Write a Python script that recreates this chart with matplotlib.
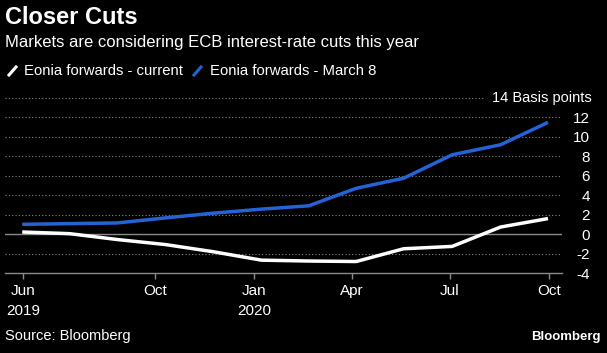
import matplotlib.pyplot as plt
import pandas as pd
from matplotlib.lines import Line2D

# Eonia forwards, basis points
dates = pd.to_datetime([
    "2019-05-31", "2019-07-14", "2019-08-27", "2019-10-11", "2019-11-24",
    "2020-01-08", "2020-02-21", "2020-04-05", "2020-05-19", "2020-07-03",
    "2020-08-17", "2020-09-30",
])
current = [0.24, 0.07, -0.53, -1.05, -1.78, -2.65, -2.74, -2.79, -1.48, -1.24, 0.75, 1.62]
march8 = [1.03, 1.10, 1.17, 1.69, 2.17, 2.59, 2.93, 4.73, 5.76, 8.17, 9.20, 11.50]

tick_dates = pd.to_datetime(["2019-06-01", "2019-10-01", "2020-01-01",
                             "2020-04-01", "2020-07-01", "2020-10-01"])
tick_labels = ["Jun\n2019", "Oct", "Jan\n2020", "Apr", "Jul", "Oct"]
y_ticks = [-4, -2, 0, 2, 4, 6, 8, 10, 12]

W, H = 607, 353
BG = "black"
BLUE = "#2463d6"
GRID = "#8a8a8a"
plt.rcParams["font.family"] = ["Liberation Sans", "DejaVu Sans"]

fig = plt.figure(figsize=(W / 100, H / 100), dpi=100, facecolor=BG)
ax = fig.add_axes([5 / W, 1 - 273.3 / H, (562 - 5) / W, (273.3 - 98) / H])
ax.set_facecolor(BG)

ax.plot(dates, current, color="white", lw=2.5, solid_capstyle="butt", zorder=3)
ax.plot(dates, march8, color=BLUE, lw=2.5, solid_capstyle="butt", zorder=3)

ax.set_ylim(-4, 14)
ax.set_xlim(pd.Timestamp("2019-05-15"), pd.Timestamp("2020-10-13"))

# dotted grid lines, solid zero line
for v in range(-2, 13, 2):
    if v == 0:
        ax.axhline(0, color=GRID, lw=1.0, zorder=1)
    else:
        ax.axhline(v, color=GRID, lw=0.8, ls=(0, (1, 2)), zorder=1)
ax.plot([0, 0.86], [1, 1], transform=ax.transAxes, color=GRID, lw=0.8,
        ls=(0, (1, 2)), clip_on=False)

for s in ["top", "left", "right"]:
    ax.spines[s].set_visible(False)
ax.spines["bottom"].set_color(GRID)
ax.spines["bottom"].set_linewidth(1.0)

ax.yaxis.tick_right()
ax.set_yticks(y_ticks)
ax.set_yticklabels([str(v) for v in y_ticks])
ax.tick_params(axis="y", length=0, pad=0, colors="white", labelsize=11)
for lab in ax.get_yticklabels():
    lab.set_horizontalalignment("right")
    lab.set_position((1 + 28 / 557, lab.get_position()[1]))

ax.set_xticks(tick_dates)
ax.set_xticklabels(tick_labels, ha="center", linespacing=1.5)
ax.tick_params(axis="x", length=4, width=1, color=GRID, colors="white",
               labelsize=11, pad=4)
ax.tick_params(axis="x", color=GRID)

fig.text(592 / W, 1 - 98 / H, "14 Basis points", color="white", fontsize=10.5,
         ha="right", va="center")

fig.text(5 / W, 1 - 17 / H, "Closer Cuts", color="white", fontsize=17,
         fontweight="bold", ha="left", va="center")
fig.text(5 / W, 1 - 43 / H, "Markets are considering ECB interest-rate cuts this year",
         color="white", fontsize=12, ha="left", va="center")

# legend
fig.add_artist(Line2D([9 / W, 16 / W], [1 - 75 / H, 1 - 67 / H], color="white", lw=2.2))
fig.text(24 / W, 1 - 71 / H, "Eonia forwards - current", color="white",
         fontsize=10.7, ha="left", va="center")
fig.add_artist(Line2D([194 / W, 201 / W], [1 - 75 / H, 1 - 67 / H], color=BLUE, lw=2.2))
fig.text(210 / W, 1 - 71 / H, "Eonia forwards - March 8", color="white",
         fontsize=10.7, ha="left", va="center")

fig.text(5 / W, 1 - 336 / H, "Source: Bloomberg", color="white", fontsize=10.5,
         ha="left", va="center")
fig.text(601 / W, 1 - 337 / H, "Bloomberg", color="white", fontsize=9.5,
         fontweight="bold", ha="right", va="center")

fig.savefig("out.png", dpi=100, facecolor=BG)
